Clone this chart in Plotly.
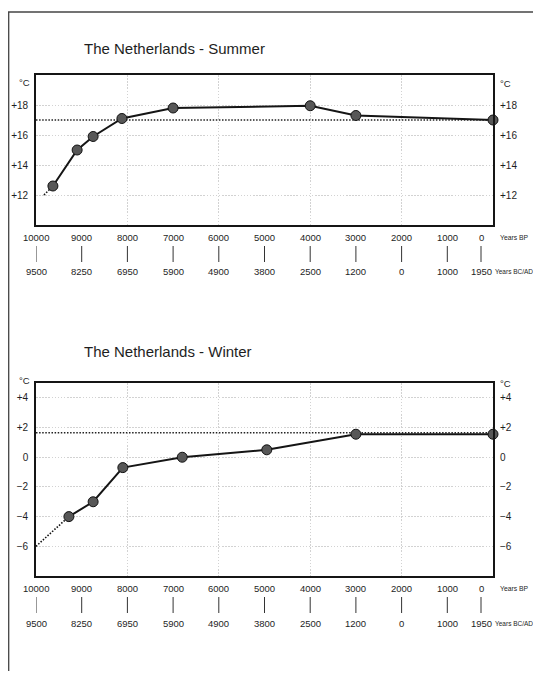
import plotly.graph_objects as go

# ---------------- data ----------------
# Summer temperatures (deg C) vs years BP
summer_bp = [9630, 9100, 8750, 8120, 7000, 4000, 3000, 0]
summer_temp = [12.6, 15.0, 15.9, 17.1, 17.8, 17.95, 17.3, 17.0]
summer_ext_bp = [9825, 9630]          # dotted extrapolation
summer_ext_temp = [12.0, 12.6]
summer_ref_level = 17.0               # present-day reference (dotted)

# Winter temperatures (deg C) vs years BP
winter_bp = [9280, 8750, 8100, 6800, 4950, 3000, 0]
winter_temp = [-4.0, -3.0, -0.7, 0.0, 0.5, 1.55, 1.55]
winter_ext_bp = [10000, 9280]
winter_ext_temp = [-6.0, -4.0]
winter_ref_level = 1.65

# Time scale labels
bp_ticks = [10000, 9000, 8000, 7000, 6000, 5000, 4000, 3000, 2000, 1000, 0]
bp_labels = ["10000", "9000", "8000", "7000", "6000", "5000", "4000", "3000", "2000", "1000", "0"]
bcad_labels = ["9500", "8250", "6950", "5900", "4900", "3800", "2500", "1200", "0", "1000", "1950"]
grid_bp = [8000, 6000, 4000, 2000]

summer_yticks = [12, 14, 16, 18]
summer_ylabels = ["+12", "+14", "+16", "+18"]
winter_yticks = [-6, -4, -2, 0, 2, 4]
winter_ylabels = ["\u22126", "\u22124", "\u22122", "0", "+2", "+4"]

# ---------------- layout helpers ----------------
# the page body has an 8px margin on every side, so the figure occupies 8..533 x 8..671
OFF = 8
W, H = 541 - 2 * OFF, 679 - 2 * OFF
def fx(px):
    return (px - OFF) / W
def fy(py):
    return 1 - (py - OFF) / H

FONT = "Liberation Sans, Arial, sans-serif"
TXT = "#1e1e1e"
LINE = "#151515"
GRID = "#d2d2d2"
DOTS = "1.5px,1.6px"

panels = [
    dict(title="The Netherlands - Summer", bp=summer_bp, t=summer_temp,
         ebp=summer_ext_bp, et=summer_ext_temp, ref=summer_ref_level,
         yt=summer_yticks, yl=summer_ylabels, yr=[10, 20],
         top=75, bot=225, title_y=48, degc_y=(82, 83),
         xa="x", ya="y", ya2="y2"),
    dict(title="The Netherlands - Winter", bp=winter_bp, t=winter_temp,
         ebp=winter_ext_bp, et=winter_ext_temp, ref=winter_ref_level,
         yt=winter_yticks, yl=winter_ylabels, yr=[-8, 5],
         top=383, bot=576, title_y=351, degc_y=(380, 383),
         xa="x2", ya="y3", ya2="y4"),
]

fig = go.Figure()
annotations = []
shapes = []
layout = dict(
    width=W, height=H, margin=dict(l=0, r=0, t=0, b=0),
    paper_bgcolor="white", plot_bgcolor="white", showlegend=False,
    font=dict(family=FONT, color=TXT),
)

PL, PR = 36, 493
last_nudge = -12  # last labels were set slightly left in the original

for p in panels:
    xa, ya, ya2 = p["xa"], p["ya"], p["ya2"]
    # reference level dotted line
    fig.add_trace(go.Scatter(x=[bp_ticks[0], bp_ticks[-1]], y=[p["ref"], p["ref"]],
                             mode="lines", line=dict(color="#222", width=1.3, dash=DOTS),
                             xaxis=xa, yaxis=ya, hoverinfo="skip"))
    # extrapolation dotted
    fig.add_trace(go.Scatter(x=p["ebp"], y=p["et"], mode="lines",
                             line=dict(color="#111", width=1.6, dash=DOTS),
                             xaxis=xa, yaxis=ya, hoverinfo="skip", cliponaxis=False))
    # main series
    fig.add_trace(go.Scatter(x=p["bp"], y=p["t"], mode="lines+markers",
                             line=dict(color=LINE, width=2),
                             marker=dict(size=10, color="#575757", line=dict(color="#111", width=1)),
                             xaxis=xa, yaxis=ya, cliponaxis=False))

    xkey = "xaxis" if xa == "x" else "xaxis" + xa[1:]
    ykey = "yaxis" if ya == "y" else "yaxis" + ya[1:]
    y2key = "yaxis" + ya2[1:]
    layout[xkey] = dict(domain=[fx(PL), fx(PR)], range=[10000, 0], anchor=ya,
                        showline=True, mirror=True, linecolor=LINE, linewidth=1.6,
                        showticklabels=False, ticks="", tickvals=grid_bp,
                        showgrid=True, gridcolor=GRID, gridwidth=0.8, griddash=DOTS,
                        zeroline=False, fixedrange=True)
    layout[ykey] = dict(domain=[fy(p["bot"]), fy(p["top"])], range=p["yr"], anchor=xa,
                        showline=True, mirror=True, linecolor=LINE, linewidth=1.6,
                        tickvals=p["yt"], ticktext=p["yl"], ticks="",
                        ticklabelstandoff=4, tickfont=dict(size=10, color=TXT),
                        showgrid=True, gridcolor=GRID, gridwidth=0.8, griddash=DOTS,
                        zeroline=False, fixedrange=True)
    layout[y2key] = dict(domain=[fy(p["bot"]), fy(p["top"])], range=p["yr"], anchor=xa,
                         overlaying=ya, side="right", showline=False,
                         tickvals=p["yt"], ticktext=p["yl"], ticks="",
                         ticklabelstandoff=6, tickfont=dict(size=10, color=TXT),
                         showgrid=False, zeroline=False, fixedrange=True)
    # dummy trace so the right axis renders
    fig.add_trace(go.Scatter(x=[None], y=[None], xaxis=xa, yaxis=ya2, hoverinfo="skip"))

    # title
    annotations.append(dict(text=p["title"], x=fx(82), y=fy(p["title_y"]), xref="paper", yref="paper",
                            xanchor="left", yanchor="middle", showarrow=False,
                            font=dict(size=15, color=TXT)))
    # degree labels
    annotations.append(dict(text="\u00b0C", x=fx(32), y=fy(p["degc_y"][0]), xref="paper", yref="paper",
                            xanchor="right", yanchor="middle", showarrow=False,
                            font=dict(size=9.5, color=TXT)))
    annotations.append(dict(text="\u00b0C", x=fx(498), y=fy(p["degc_y"][1]), xref="paper", yref="paper",
                            xanchor="left", yanchor="middle", showarrow=False,
                            font=dict(size=9.5, color=TXT)))
    # time scale rows
    b = p["bot"]
    n = len(bp_ticks)
    for i, (v, l1, l2) in enumerate(zip(bp_ticks, bp_labels, bcad_labels)):
        sh = last_nudge if i == n - 1 else 0
        annotations.append(dict(text=l1, x=v, xref=xa, y=fy(b + 12), yref="paper", xshift=sh,
                                xanchor="center", yanchor="middle", showarrow=False,
                                font=dict(size=9.5, color=TXT)))
        annotations.append(dict(text=l2, x=v, xref=xa, y=fy(b + 47), yref="paper", xshift=sh,
                                xanchor="center", yanchor="middle", showarrow=False,
                                font=dict(size=9.5, color=TXT)))
        shapes.append(dict(type="line", xref=xa, xsizemode="pixel", xanchor=v, x0=sh, x1=sh,
                           yref="paper", y0=fy(b + 21), y1=fy(b + 37),
                           line=dict(color="#333", width=1)))
    annotations.append(dict(text="Years BP", x=fx(498), y=fy(b + 12), xref="paper", yref="paper",
                            xanchor="left", yanchor="middle", showarrow=False,
                            font=dict(size=6.8, color=TXT)))
    annotations.append(dict(text="Years BC/AD", x=fx(493), y=fy(b + 47), xref="paper", yref="paper",
                            xanchor="left", yanchor="middle", showarrow=False,
                            font=dict(size=6.5, color=TXT)))

# outer frame of the figure page
shapes.append(dict(type="line", xref="paper", yref="paper", x0=fx(8.7), x1=fx(8.7), y0=0, y1=fy(12),
                   line=dict(color="#444", width=1.3)))
shapes.append(dict(type="line", xref="paper", yref="paper", x0=fx(8), x1=1, y0=fy(12), y1=fy(12),
                   line=dict(color="#444", width=1.3)))

layout["annotations"] = annotations
layout["shapes"] = shapes
fig.update_layout(**layout)
fig.write_html("out.html")
